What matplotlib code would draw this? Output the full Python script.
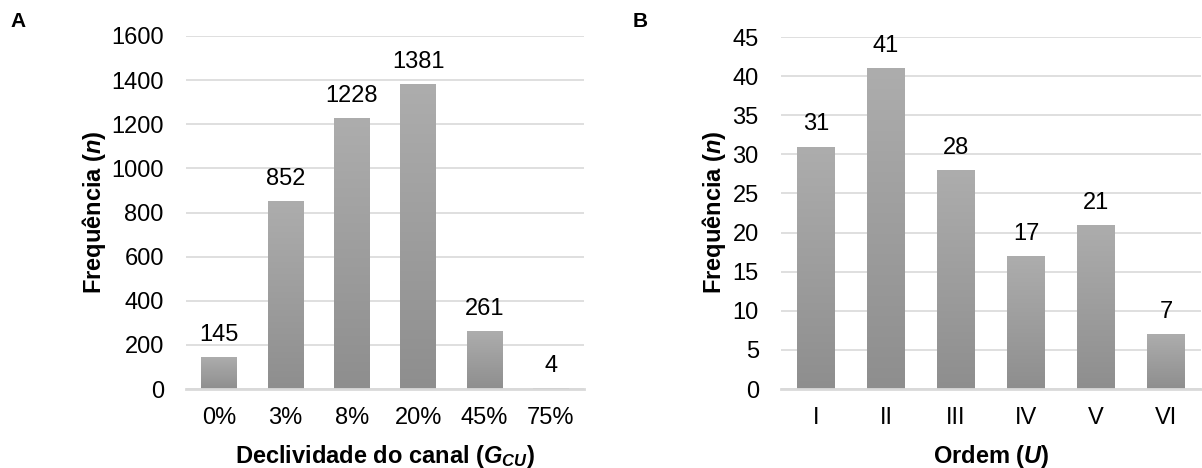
import matplotlib
matplotlib.use("Agg")
import matplotlib.pyplot as plt
import numpy as np

plt.rcParams["font.family"] = ["Liberation Sans", "DejaVu Sans"]
plt.rcParams["mathtext.fontset"] = "custom"
plt.rcParams["mathtext.rm"] = "Liberation Sans"
plt.rcParams["mathtext.it"] = "Liberation Sans:italic"
plt.rcParams["mathtext.bf"] = "Liberation Sans:bold"
plt.rcParams["mathtext.bfit"] = "Liberation Sans:italic:bold"

# Dados
declividade = ["0%", "3%", "8%", "20%", "45%", "75%"]
freq_decl = [145, 852, 1228, 1381, 261, 4]

ordem = ["I", "II", "III", "IV", "V", "VI"]
freq_ordem = [31, 41, 28, 17, 21, 7]

grid_color = "#d9d9d9"
text_color = "#000000"


def gradient_bars(ax, cats, vals):
    bars = ax.bar(cats, vals, width=0.54, color="#9d9d9d", zorder=2)
    grad = np.linspace(0, 1, 256).reshape(-1, 1)
    cmap = matplotlib.colors.LinearSegmentedColormap.from_list("g", ["#8e8e8e", "#adadad"])
    for b in bars:
        x0, y0 = b.get_x(), b.get_y()
        w, h = b.get_width(), b.get_height()
        if h <= 0:
            continue
        im = ax.imshow(grad, extent=[x0, x0 + w, y0, y0 + h], origin="lower",
                       cmap=cmap, aspect="auto", zorder=3, interpolation="bicubic")
        im.set_clip_path(b)
    for b, v in zip(bars, vals):
        ax.annotate(str(v), (b.get_x() + b.get_width() / 2, b.get_height()),
                    xytext=(0, 8), textcoords="offset points",
                    ha="center", va="bottom", fontsize=17, color=text_color)
    return bars


def style(ax, ymax, step):
    ax.set_ylim(0, ymax)
    ax.set_xlim(-0.5, 5.5)
    ax.set_yticks(np.arange(0, ymax + step, step))
    ax.grid(axis="y", color=grid_color, linewidth=1.2, zorder=0)
    ax.set_axisbelow(True)
    for s in ["top", "right", "left"]:
        ax.spines[s].set_visible(False)
    ax.spines["bottom"].set_color(grid_color)
    ax.spines["bottom"].set_linewidth(2)
    ax.spines["bottom"].set_zorder(4)
    ax.tick_params(axis="both", length=0, labelsize=17, colors=text_color)
    ax.tick_params(axis="y", pad=16)
    ax.tick_params(axis="x", pad=13)


fig = plt.figure(figsize=(12.02, 4.68), dpi=100)

axA = fig.add_axes([186 / 1202, 1 - 389 / 468, 398 / 1202, 353 / 468])
gradient_bars(axA, declividade, freq_decl)
style(axA, 1600, 200)
axA.set_xlabel(r"Declividade do canal ($\mathbfit{G}_{\mathbfit{CU}}$)",
               fontsize=17, fontweight="bold", labelpad=10)

axB = fig.add_axes([781 / 1202, 1 - 389 / 468, 420 / 1202, 352 / 468])
gradient_bars(axB, ordem, freq_ordem)
style(axB, 45, 5)
axB.set_xlabel(r"Ordem ($\mathbfit{U}$)", fontsize=17, fontweight="bold", labelpad=10)

fig.text(93.5 / 1202, 1 - 212.5 / 468, r"Frequência ($\mathbfit{n}$)", rotation=90,
         ha="center", va="center", fontsize=17, fontweight="bold")
fig.text(714.5 / 1202, 1 - 212.5 / 468, r"Frequência ($\mathbfit{n}$)", rotation=90,
         ha="center", va="center", fontsize=17, fontweight="bold")

fig.text(10 / 1202, 1 - 27 / 468, "A", fontsize=15, fontweight="bold", va="baseline")
fig.text(633 / 1202, 1 - 27 / 468, "B", fontsize=15, fontweight="bold", va="baseline")

fig.savefig("out.png", dpi=100)
